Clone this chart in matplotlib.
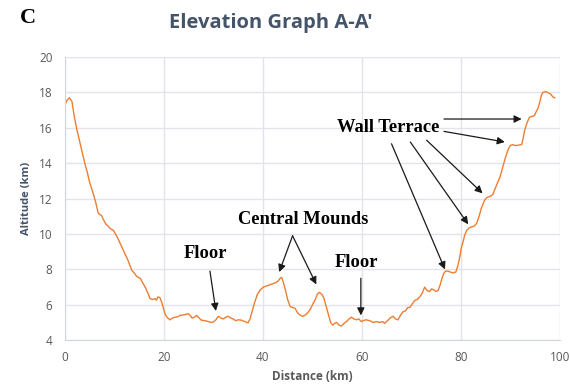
import matplotlib.pyplot as plt

# elevation profile along A-A'
distance = [0.0, 0.4, 0.9, 1.4, 1.9, 2.4, 3.0, 3.5, 4.0, 4.5, 5.0, 5.7, 6.2, 6.7, 7.0,
            7.4, 7.8, 8.3, 8.7, 9.2, 9.8, 10.3, 10.6, 11.1, 11.6, 12.1, 12.6, 13.1, 13.5,
            14.0, 14.5, 15.2, 15.7, 16.2, 16.7, 17.2, 17.7, 18.2, 18.5, 18.8, 19.2, 19.6,
            19.9, 20.2, 20.6, 21.2, 21.7, 22.3, 22.8, 23.2, 23.8, 24.4, 24.9, 25.3, 25.7,
            26.2, 26.6, 27.1, 27.6, 28.3, 29.0, 29.6, 30.0, 30.5, 31.0, 31.5, 32.0, 32.5,
            33.0, 33.5, 34.0, 34.5, 35.0, 35.7, 36.3, 37.0, 37.4, 37.8, 38.3, 38.9, 39.5,
            40.1, 40.6, 41.1, 41.6, 42.1, 42.6, 43.1, 43.5, 43.8, 44.1, 44.5, 45.0, 45.5,
            46.0, 46.5, 47.0, 47.6, 48.1, 48.7, 49.2, 49.6, 50.1, 50.6, 51.0, 51.4, 51.9,
            52.3, 52.8, 53.3, 53.7, 54.1, 54.5, 54.9, 55.4, 55.9, 56.4, 56.9, 57.4, 57.9,
            58.4, 58.9, 59.4, 59.9, 60.4, 60.9, 61.6, 62.3, 63.0, 63.6, 64.2, 64.6, 65.2,
            65.7, 66.3, 66.8, 67.3, 67.8, 68.3, 68.8, 69.3, 69.7, 70.2, 70.7, 71.2, 71.7,
            72.2, 72.7, 73.2, 73.7, 74.1, 74.5, 75.0, 75.4, 75.8, 76.1, 76.5, 76.9, 77.4,
            77.9, 78.4, 79.0, 79.4, 79.8, 80.1, 80.5, 80.8, 81.2, 81.7, 82.2, 82.7, 83.2,
            83.7, 84.2, 84.8, 85.2, 85.6, 86.1, 86.5, 87.0, 87.5, 87.9, 88.4, 89.0, 89.6,
            90.0, 90.5, 91.0, 91.6, 92.3, 92.6, 92.9, 93.4, 93.9, 94.4, 94.9, 95.3, 95.6,
            96.0, 96.3, 96.6, 97.1, 97.6, 98.2, 98.6, 99.0]
altitude = [17.3, 17.55, 17.7, 17.5, 16.6, 15.9, 15.2, 14.6, 14.0, 13.5, 12.9, 12.3, 11.8,
            11.2, 11.1, 11.05, 10.8, 10.55, 10.45, 10.3, 10.2, 9.95, 9.8, 9.5, 9.2, 8.9,
            8.6, 8.25, 7.95, 7.8, 7.6, 7.5, 7.25, 7.0, 6.7, 6.35, 6.3, 6.35, 6.26, 6.45,
            6.4, 6.1, 5.8, 5.5, 5.3, 5.15, 5.25, 5.3, 5.32, 5.4, 5.42, 5.45, 5.5, 5.4,
            5.25, 5.3, 5.4, 5.25, 5.13, 5.1, 5.05, 5.0, 5.03, 5.15, 5.35, 5.25, 5.2, 5.3,
            5.35, 5.25, 5.2, 5.1, 5.15, 5.13, 5.05, 4.98, 5.2, 5.6, 6.1, 6.6, 6.85, 7.0,
            7.05, 7.1, 7.15, 7.2, 7.25, 7.35, 7.5, 7.55, 7.3, 6.9, 6.3, 5.9, 5.85, 5.8,
            5.55, 5.4, 5.35, 5.45, 5.6, 5.75, 6.05, 6.3, 6.6, 6.7, 6.6, 6.4, 5.9, 5.4,
            5.0, 4.85, 4.95, 5.0, 4.85, 4.8, 4.95, 5.05, 5.2, 5.3, 5.2, 5.15, 5.2, 5.05,
            5.12, 5.15, 5.1, 5.0, 5.05, 5.0, 5.05, 4.95, 5.1, 5.25, 5.35, 5.2, 5.15, 5.4,
            5.6, 5.65, 5.85, 5.85, 6.05, 6.25, 6.3, 6.45, 6.65, 7.0, 6.8, 6.75, 6.9, 6.85,
            6.75, 6.8, 7.1, 7.4, 7.75, 7.9, 7.9, 7.85, 7.8, 7.85, 8.2, 8.7, 9.2, 9.6, 9.95,
            10.2, 10.35, 10.4, 10.45, 10.6, 11.0, 11.5, 11.9, 12.05, 12.1, 12.15, 12.25,
            12.6, 12.95, 13.2, 13.7, 14.3, 14.8, 15.0, 15.05, 15.0, 15.02, 15.05, 15.4,
            15.85, 16.3, 16.6, 16.65, 16.7, 16.95, 17.1, 17.5, 17.85, 18.0, 18.05, 18.0,
            17.9, 17.75, 17.7]

x_ticks = [0, 20, 40, 60, 80, 100]
y_ticks = [4, 6, 8, 10, 12, 14, 16, 18, 20]

fig = plt.figure(figsize=(5.7, 3.91), dpi=100)
ax = fig.add_axes([0.114, 0.130, 0.868, 0.724])

ax.plot(distance, altitude, color="#ED7D31", lw=1.0)

ax.set_xlim(0, 100)
ax.set_ylim(4, 20)
ax.set_xticks(x_ticks)
ax.set_yticks(y_ticks)
ax.grid(True, color="#E1E4EA", lw=1.0)
ax.set_axisbelow(True)
for side in ["top", "right"]:
    ax.spines[side].set_visible(False)
for side in ["left", "bottom"]:
    ax.spines[side].set_color("#D0D5DE")
ax.tick_params(length=0, labelsize=8.5, labelcolor="#595959")
ax.tick_params(axis="y", pad=9)
ax.tick_params(axis="x", pad=8)
for lab in ax.get_xticklabels() + ax.get_yticklabels():
    lab.set_family("Open Sans")

ax.set_xlabel("Distance (km)", fontsize=8.5, fontweight="bold", color="#595959",
              family="Open Sans", labelpad=4)
ax.set_ylabel("Altitude (km)", fontsize=8, fontweight="bold", color="#44546A",
              family="Open Sans", labelpad=5)

fig.text(0.475, 0.942, "Elevation Graph A-A'", ha="center", va="center",
         fontsize=14.5, fontweight="bold", color="#44546A", family="Open Sans")
fig.text(0.035, 0.955, "C", ha="left", va="center", fontsize=16,
         fontweight="bold", family="Liberation Serif")

# annotations
note = dict(fontsize=13.3, fontweight="bold", family="Liberation Serif",
            ha="center", va="center")
arrow = dict(arrowstyle="-|>", color="#1a1a1a", lw=0.9, mutation_scale=11,
             shrinkA=0, shrinkB=0)

ax.text(28.3, 8.9, "Floor", **note)
ax.annotate("", xy=(30.5, 5.65), xytext=(29.3, 7.9), arrowprops=arrow)

ax.text(59.0, 8.4, "Floor", **note)
ax.annotate("", xy=(59.8, 5.4), xytext=(59.8, 7.5), arrowprops=arrow)

ax.text(48.2, 10.8, "Central Mounds", **note)
ax.annotate("", xy=(43.3, 7.85), xytext=(46.0, 9.9), arrowprops=arrow)
ax.annotate("", xy=(50.8, 7.15), xytext=(46.0, 9.9), arrowprops=arrow)

ax.text(65.35, 16.0, "Wall Terrace", **note)
terrace_arrows = [
    ((76.6, 16.5), (92.3, 16.5)),
    ((76.6, 15.8), (88.9, 15.2)),
    ((73.1, 15.3), (84.4, 12.3)),
    ((69.8, 15.2), (81.5, 10.55)),
    ((66.0, 15.1), (76.8, 8.0)),
]
for start, end in terrace_arrows:
    ax.annotate("", xy=end, xytext=start, arrowprops=arrow)

fig.savefig("out.png", dpi=100)
